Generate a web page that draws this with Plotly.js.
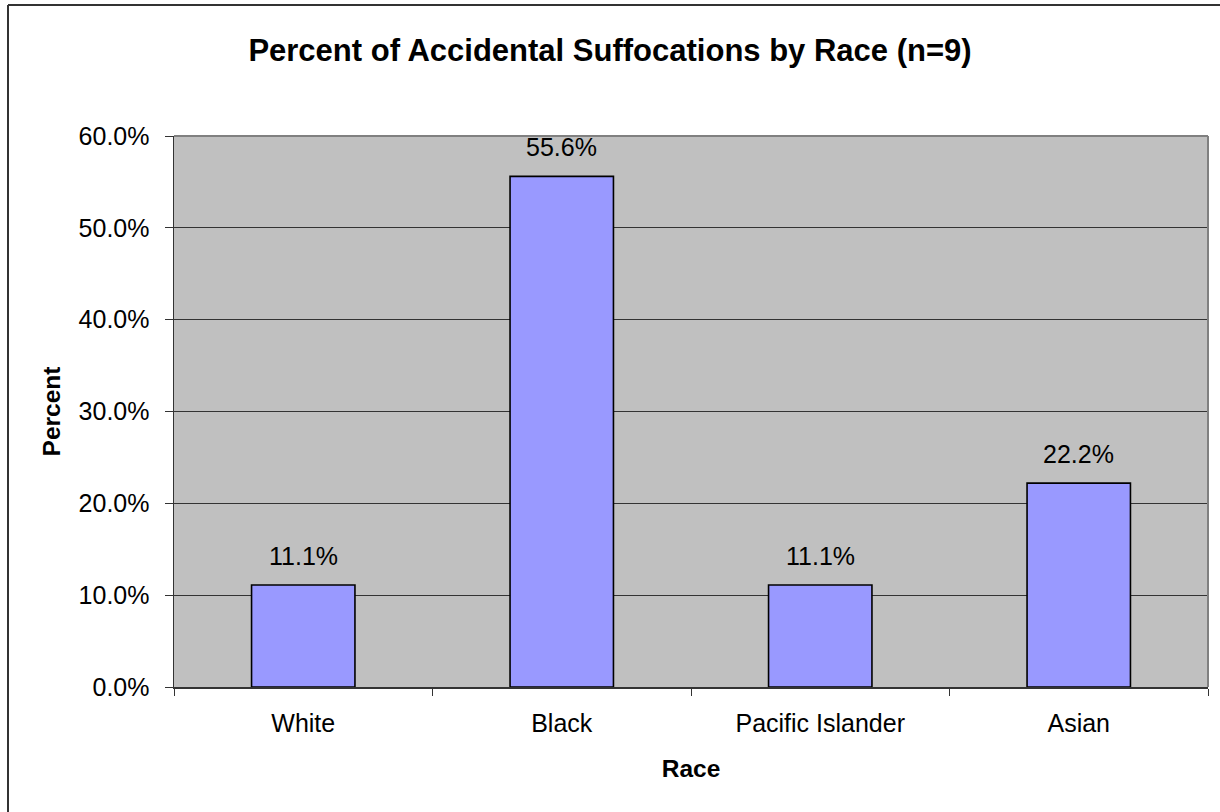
<!DOCTYPE html>
<html>
<head>
<meta charset="utf-8">
<script src="https://cdn.plot.ly/plotly-3.0.1.min.js"></script>
<style>
html,body{margin:0;padding:0;background:#fff;}
#chart{width:1220px;height:812px;}
</style>
</head>
<body>
<div id="chart"></div>
<script>
const categories = ["White", "Black", "Pacific Islander", "Asian"];
const percentValues = [11.1, 55.6, 11.1, 22.2];
const valueLabels = ["11.1%", "55.6%", "11.1%", "22.2%"];
const yTickValues = [0, 10, 20, 30, 40, 50, 60];

const font = "Arial, 'Liberation Sans', sans-serif";

const trace = {
  type: "bar",
  x: categories,
  y: percentValues,
  marker: { color: "#9999FF", line: { color: "#000000", width: 1.6 } },
  hoverinfo: "skip"
};

const annotations = categories.map((c, i) => ({
  x: c, y: percentValues[i], xref: "x", yref: "y",
  text: valueLabels[i], showarrow: false,
  yanchor: "bottom", yshift: 13,
  font: { family: font, size: 25, color: "#000" }
}));

const W = 1034, H = 551;
const px = v => (v - 174) / W;
const py = v => (687 - v) / H;

const shapes = [
  { type: "line", xref: "paper", yref: "paper", x0: px(8), x1: px(1240), y0: py(5), y1: py(5), line: { color: "#333", width: 2 } },
  { type: "line", xref: "paper", yref: "paper", x0: px(8), x1: px(8), y0: py(5), y1: py(840), line: { color: "#333", width: 2 } },
  { type: "line", xref: "paper", yref: "paper", x0: 0, x1: 1, y0: 1, y1: 1, line: { color: "#808080", width: 2 } },
  { type: "line", xref: "paper", yref: "paper", x0: 1, x1: 1, y0: 0, y1: 1, line: { color: "#808080", width: 2 } }
];

const layout = {
  width: 1220, height: 812,
  margin: { l: 174, r: 12, t: 136, b: 125, pad: 0 },
  paper_bgcolor: "#ffffff",
  plot_bgcolor: "#C0C0C0",
  showlegend: false,
  bargap: 0.6,
  title: {
    text: "<b>Percent of Accidental Suffocations by Race (n=9)</b>",
    font: { family: font, size: 31, color: "#000" },
    x: 0.5, xref: "container", xanchor: "center",
    y: 1 - 50 / 812, yref: "container", yanchor: "middle"
  },
  xaxis: {
    type: "category",
    tickson: "boundaries",
    ticks: "outside", ticklen: 7, tickcolor: "#333", tickwidth: 1,
    ticklabelstandoff: 13,
    showline: true, linecolor: "#333", linewidth: 1.5,
    showgrid: false,
    tickfont: { family: font, size: 25, color: "#000" },
    title: { text: "<b>Race</b>", font: { family: font, size: 24.5, color: "#000" }, standoff: 24 },
    automargin: false
  },
  yaxis: {
    range: [0, 60],
    tickvals: yTickValues,
    ticktext: yTickValues.map(v => v.toFixed(1) + "%"),
    ticks: "outside", ticklen: 8, tickcolor: "#333", tickwidth: 1,
    ticklabelstandoff: 10,
    showline: true, linecolor: "#333", linewidth: 1.5,
    showgrid: true, gridcolor: "#333", gridwidth: 1,
    zeroline: false,
    tickfont: { family: font, size: 25, color: "#000" },
    title: { text: "<b>Percent</b>", font: { family: font, size: 24.5, color: "#000" }, standoff: 11 },
    automargin: false
  },
  annotations: annotations,
  shapes: shapes
};

Plotly.newPlot("chart", [trace], layout, { staticPlot: true, displayModeBar: false });
</script>
</body>
</html>
